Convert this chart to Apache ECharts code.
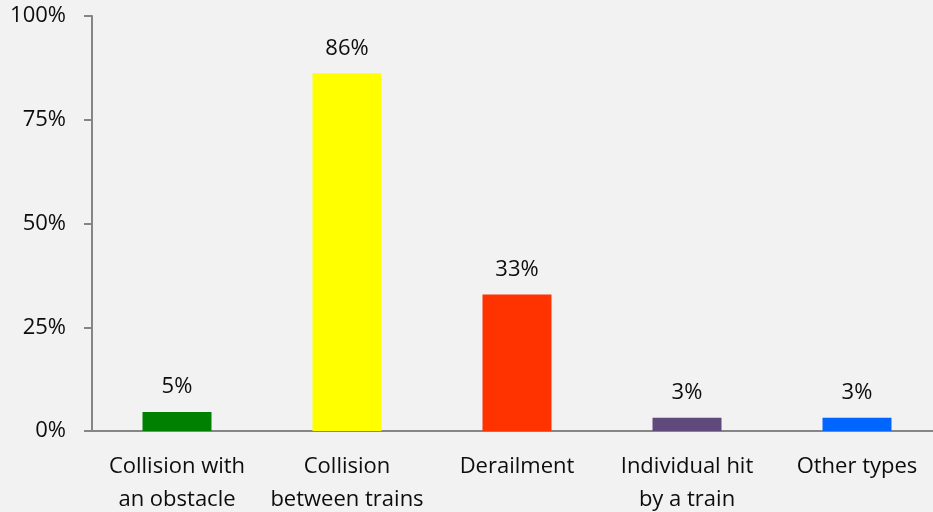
<!DOCTYPE html>
<html><head><meta charset="utf-8">
<script src="https://cdn.jsdelivr.net/npm/echarts@6/dist/echarts.min.js"></script>
<style>html,body{margin:0;padding:0;background:#f2f2f2;overflow:hidden}#c{width:942px;height:512px}</style>
</head><body><div id="c"></div>
<script>
const categories = ["Collision with\nan obstacle", "Collision\nbetween trains", "Derailment", "Individual hit\nby a train", "Other types"];
const values = [4.6, 86.2, 32.9, 3.2, 3.2];
const colors = ["#008000", "#ffff00", "#ff3300", "#604a7b", "#0066ff"];
const yTicks = [0, 25, 50, 75, 100];

const FONT = "Open Sans";
const chart = echarts.init(document.getElementById('c'));
chart.setOption({
  backgroundColor: '#f2f2f2',
  animation: false,
  grid: { left: 92, right: 0, top: 16, bottom: 81, containLabel: false, outerBoundsMode: 'none' },
  xAxis: {
    type: 'category',
    data: categories,
    axisLine: { lineStyle: { color: '#868686', width: 2 } },
    axisTick: { show: false },
    axisLabel: { color: '#0d0d0d', fontFamily: FONT, fontSize: 22, lineHeight: 33, margin: 19, interval: 0 }
  },
  yAxis: {
    type: 'value', min: 0, max: 100, interval: 25,
    splitLine: { show: false },
    axisLine: { show: true, lineStyle: { color: '#868686', width: 2 } },
    axisTick: { show: true, length: 8, lineStyle: { color: '#868686', width: 2 } },
    axisLabel: { color: '#0d0d0d', fontFamily: FONT, fontSize: 22, margin: 26,
      formatter: v => yTicks.includes(v) ? v + '%' : '' }
  },
  series: [{
    type: 'bar',
    barWidth: 69,
    data: values.map((v, i) => ({ value: v, itemStyle: { color: colors[i] } })),
    label: { show: true, position: 'top', distance: 14, color: '#0d0d0d', fontFamily: FONT, fontSize: 22,
      formatter: p => Math.round(p.value) + '%' }
  }]
});
</script></body></html>
